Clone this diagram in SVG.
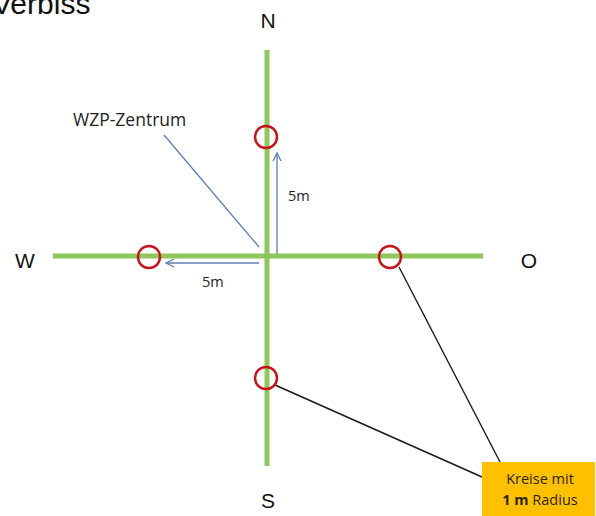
<svg xmlns="http://www.w3.org/2000/svg" width="596" height="516" viewBox="0 0 596 516">
  <defs>
    <marker id="openHead" viewBox="0 0 10 10" refX="9" refY="5" markerWidth="10" markerHeight="10" markerUnits="userSpaceOnUse" orient="auto">
      <path d="M1,1 L9,5 L1,9" fill="none" stroke="#5B7FB0" stroke-width="1.3"/>
    </marker>
  </defs>
  <style>
    .axis { stroke: #8FC75C; stroke-width: 5; fill: none; }
    .ring { fill: none; stroke: #C8151B; stroke-width: 2.5; }
    .dist { stroke: #5B7FB0; stroke-width: 1.3; fill: none; marker-end: url(#openHead); }
    .lead { stroke: #5B7FB0; stroke-width: 1.3; fill: none; }
    .callout { stroke: #1a1a1a; stroke-width: 1.4; fill: none; }
    .dir { font-family: "Liberation Sans", Arial, sans-serif; font-size: 21px; fill: #111; text-anchor: middle; }
    .small { font-family: "Open Sans", "Noto Sans", sans-serif; font-size: 14.5px; fill: #222; }
    .big { font-family: "Open Sans", "Noto Sans", sans-serif; font-size: 17.5px; fill: #222; }
    .note { font-family: "Open Sans", "Noto Sans", sans-serif; font-size: 14.5px; fill: #2e2410; text-anchor: middle; }
  </style>

  <!-- title, clipped at the left edge -->
  <text x="-8" y="14" font-family="Liberation Sans, Arial, sans-serif" font-size="30" fill="#111">Verbiss</text>

  <!-- cross axes -->
  <g id="axes">
    <line class="axis" x1="267" y1="50" x2="267" y2="466"/>
    <line class="axis" x1="53" y1="256" x2="483" y2="256"/>
  </g>

  <!-- compass labels -->
  <g id="label-N"><text class="dir" x="268" y="28">N</text></g>
  <g id="label-W"><text class="dir" x="25" y="268">W</text></g>
  <g id="label-O"><text class="dir" x="529" y="268">O</text></g>
  <g id="label-S"><text class="dir" x="268" y="508">S</text></g>

  <!-- connectors: distance arrows, centre pointer, callout lines -->
  <g id="connectors">
    <line class="dist" x1="277" y1="254" x2="277" y2="153"/>
    <line class="dist" x1="259" y1="263" x2="166" y2="263"/>
    <line class="lead" x1="164" y1="135" x2="259" y2="247"/>
    <line class="callout" x1="399" y1="267" x2="500" y2="462"/>
    <line class="callout" x1="275" y1="385" x2="482" y2="477"/>
  </g>

  <!-- sample circles -->
  <g id="circle-N"><circle class="ring" cx="266" cy="137" r="11"/></g>
  <g id="circle-W"><circle class="ring" cx="149" cy="257" r="11"/></g>
  <g id="circle-O"><circle class="ring" cx="390" cy="257" r="11"/></g>
  <g id="circle-S"><circle class="ring" cx="266" cy="378" r="11"/></g>

  <!-- texts -->
  <g id="label-centre"><text class="big" x="73" y="126">WZP-Zentrum</text></g>
  <g id="label-5m-up"><text class="small" x="288" y="201">5m</text></g>
  <g id="label-5m-left"><text class="small" x="202" y="287">5m</text></g>

  <!-- note box -->
  <g id="note">
    <rect x="482" y="462" width="113" height="54" fill="#FFC000"/>
    <text class="note" x="540" y="484">Kreise mit</text>
    <text class="note" x="540" y="505"><tspan font-weight="bold">1 m</tspan> Radius</text>
  </g>
</svg>
